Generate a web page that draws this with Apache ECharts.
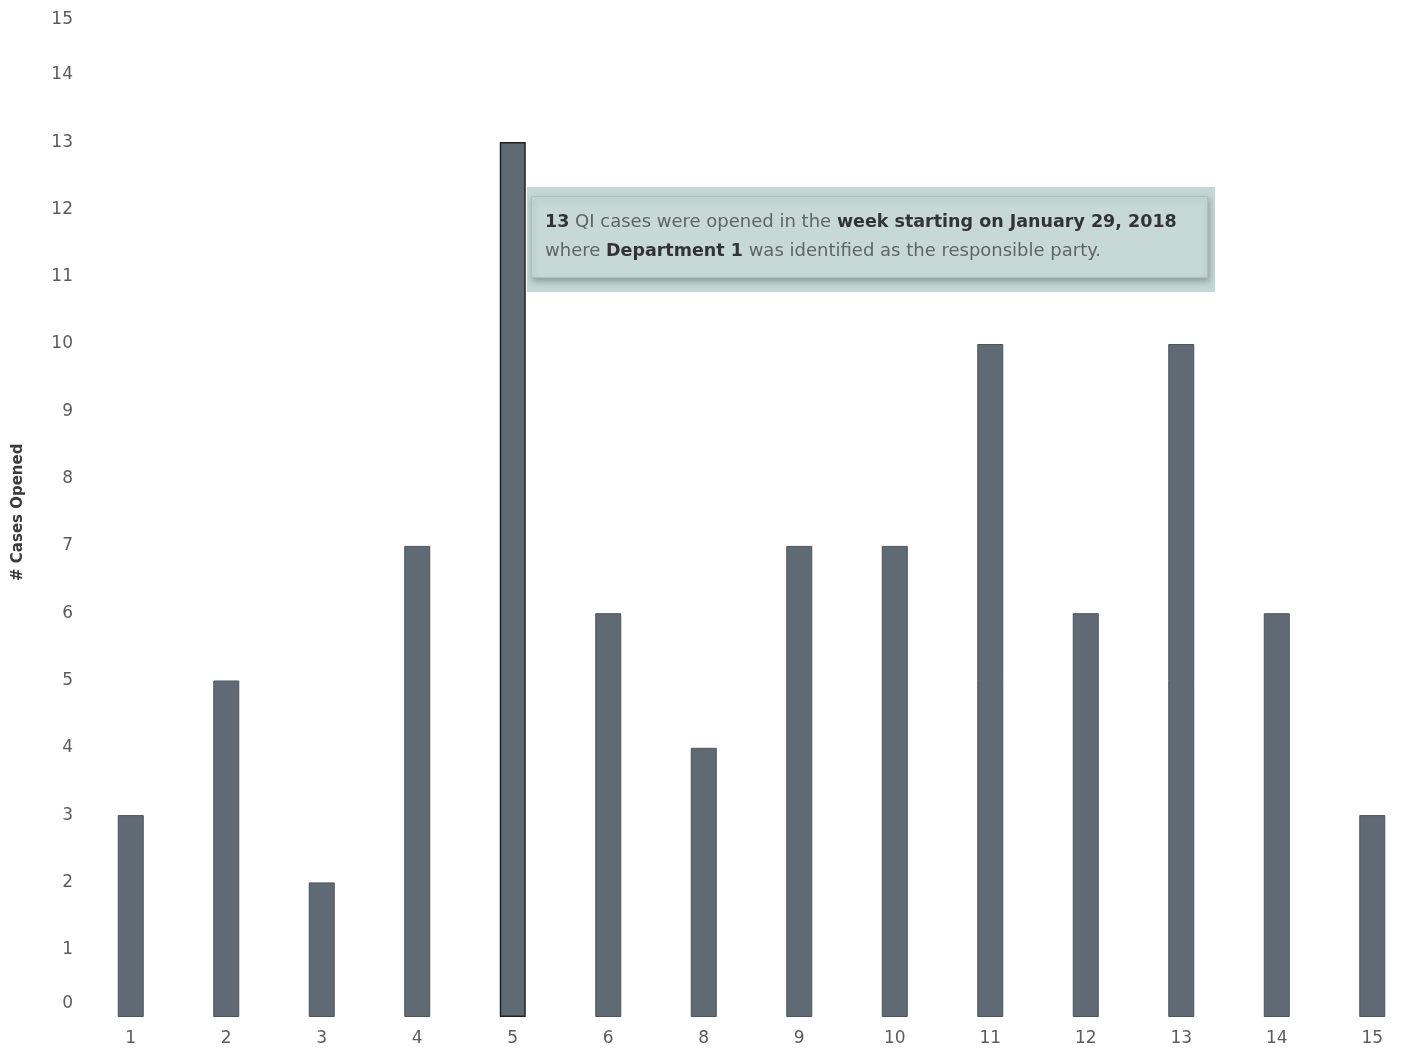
<!DOCTYPE html>
<html>
<head>
<meta charset="utf-8">
<script src="https://cdn.jsdelivr.net/npm/echarts@6/dist/echarts.min.js"></script>
<style>
html,body{margin:0;padding:0;background:#fff;}
#c{width:1420px;height:1051px;}
</style>
</head>
<body>
<div id="c"></div>
<script>
const categories = ['1','2','3','4','5','6','8','9','10','11','12','13','14','15'];
const casesOpened = [3,5,2,7,13,6,4,7,7,10,6,10,6,3];
const highlightIndex = 4;
const yAxisName = '# Cases Opened';

const chart = echarts.init(document.getElementById('c'));
const FONT = 'DejaVu Sans';

chart.setOption({
  animation: false,
  backgroundColor: '#ffffff',
  grid: { left: 83, right: -1, top: 7.5, bottom: 34, containLabel: false },
  xAxis: {
    type: 'category',
    data: categories,
    axisLine: { show: false },
    axisTick: { show: false },
    axisLabel: { color: '#5c5c5c', fontFamily: FONT, fontSize: 17, margin: 13 }
  },
  yAxis: {
    type: 'value',
    min: 0, max: 15, interval: 1,
    name: yAxisName,
    nameLocation: 'middle',
    nameGap: 57,
    nameTextStyle: { color: '#3a3a3a', fontFamily: FONT, fontSize: 15, fontWeight: 'bold' },
    axisLine: { show: false },
    axisTick: { show: false },
    splitLine: { show: false },
    axisLabel: {
      color: '#5c5c5c', fontFamily: FONT, fontSize: 17, margin: 10,
      formatter: function (v) {
        if (v === 0) return '{lo|0}';
        if (v === 15) return '{hi|15}';
        return String(v);
      },
      rich: {
        lo: { color: '#5c5c5c', fontFamily: FONT, fontSize: 17, padding: [0, 0, 26, 0] },
        hi: { color: '#5c5c5c', fontFamily: FONT, fontSize: 17, padding: [25, 0, 0, 0] }
      }
    }
  },
  series: [{
    type: 'bar',
    barWidth: 26,
    data: casesOpened.map(function (v, i) {
      return i === highlightIndex
        ? { value: v, itemStyle: { color: '#5f6a74', borderColor: '#1e2328', borderWidth: 1.5 } }
        : v;
    }),
    itemStyle: { color: '#5f6a74', borderColor: '#4b545c', borderWidth: 1 }
  }],
  graphic: [
    { type: 'rect', left: 527, top: 187, z: 100,
      shape: { width: 688, height: 105 },
      style: { fill: '#c3d7d5' } },
    { type: 'rect', left: 531, top: 196, z: 101,
      shape: { width: 676, height: 81 },
      style: { fill: '#c6d9d7', stroke: '#aebfbd', lineWidth: 1,
               shadowBlur: 6, shadowOffsetX: 1, shadowOffsetY: 3, shadowColor: 'rgba(0,0,0,0.25)' } },
    { type: 'text', left: 545, top: 208, z: 102,
      style: {
        text: '{b|13} QI cases were opened in the {b|week starting on January 29, 2018}\nwhere {b|Department 1} was identified as the responsible party.',
        fontFamily: FONT, fontSize: 18, lineHeight: 29, fill: '#5f6466',
        rich: { b: { fontFamily: FONT, fontSize: 17.5, fontWeight: 'bold', fill: '#333', lineHeight: 29 } }
      } }
  ]
});
</script>
</body>
</html>
